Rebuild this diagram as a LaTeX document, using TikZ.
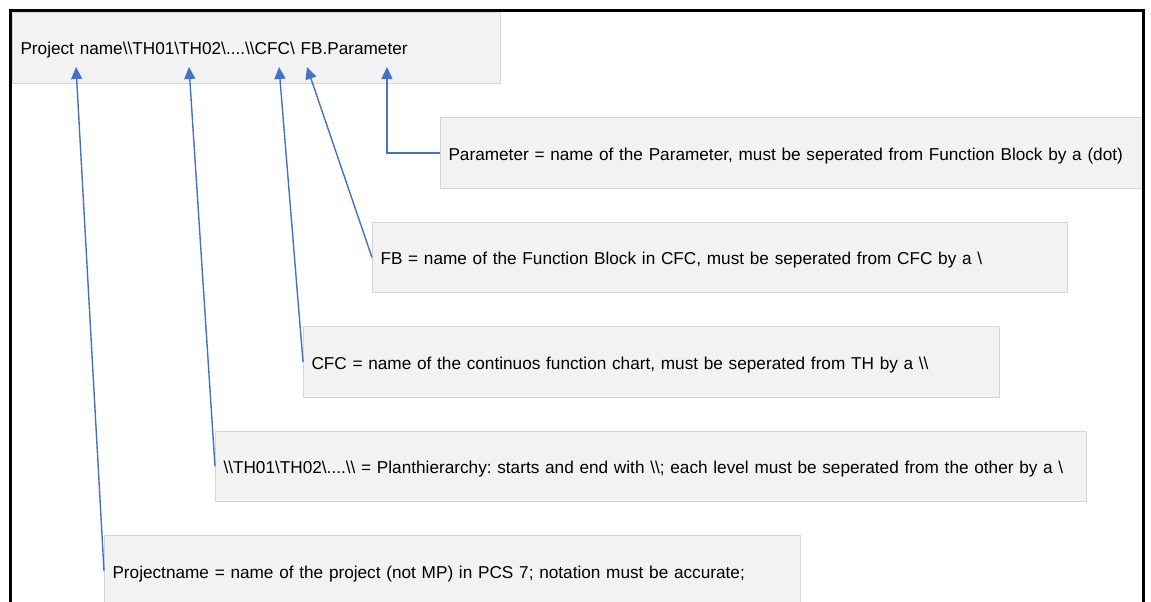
\documentclass[tikz,border=0pt]{standalone}
\usepackage{fontspec}
\setmainfont{Liberation Sans}
\usetikzlibrary{arrows.meta}
\definecolor{linkblue}{HTML}{4472C4}
\definecolor{boxfill}{HTML}{F2F2F2}
\definecolor{boxline}{HTML}{D6D6D6}
\newcommand\bsl{\textbackslash}
\begin{document}
\begin{tikzpicture}[x=1pt,y=-1pt,
  note/.style={draw=boxline, line width=1pt, fill=boxfill, rectangle,
    anchor=north west, inner xsep=8pt, inner ysep=0pt, align=left,
    text height=14pt, text depth=0pt,
    font=\fontsize{17.2}{20}\selectfont\frenchspacing},
  pointer/.style={draw=linkblue, line width=1.4pt,
    -{Triangle[length=12pt,width=11pt]}},
  frameline/.style={draw=black, line width=3pt}]
\useasboundingbox (0,0) rectangle (1151,602);
\clip (0,0) rectangle (1151,602);

% path string and its explanations
\node[note, minimum width=488pt, minimum height=71pt, text width=472pt] (path) at (12,12)
  {Project name\bsl\bsl TH01\bsl TH02\bsl....\bsl\bsl CFC\bsl{} FB.Parameter};
\node[note, minimum width=702pt, minimum height=71pt, text width=686pt] (param) at (440,117)
  {Parameter = name of the Parameter, must be seperated from Function Block by a (dot)};
\node[note, minimum width=695pt, minimum height=70pt, text width=679pt] (fb) at (372,222)
  {FB = name of the Function Block in CFC, must be seperated from CFC by a \bsl};
\node[note, minimum width=696pt, minimum height=71pt, text width=680pt] (cfc) at (303,326)
  {CFC = name of the continuos function chart, must be seperated from TH by a \bsl\bsl};
\node[note, minimum width=871pt, minimum height=70pt, text width=855pt] (th) at (215,431)
  {\bsl\bsl TH01\bsl TH02\bsl....\bsl\bsl{} = Planthierarchy: starts and end with \bsl\bsl; each level must be seperated from the other by a \bsl};
\node[note, minimum width=696pt, minimum height=71pt, text width=680pt] (proj) at (104,535)
  {Projectname = name of the project (not MP) in PCS 7; notation must be accurate;};

% arrow tips under the parts of the path string
\coordinate (tipProj) at (76,67);
\coordinate (tipTH) at (189,67);
\coordinate (tipCFC) at (279,67);
\coordinate (tipFB) at (307,67);
\coordinate (tipParam) at (387,67);

\draw[pointer] (proj.west) -- (tipProj);
\draw[pointer] (th.west) -- (tipTH);
\draw[pointer] (cfc.west) -- (tipCFC);
\draw[pointer] (fb.west) -- (tipFB);
\draw[pointer] (param.west) -| (tipParam);

% outer frame, open at the bottom
\draw[frameline] (10.5,640) -- (10.5,10.5) -- (1143,10.5) -- (1143,640);
\end{tikzpicture}
\end{document}
